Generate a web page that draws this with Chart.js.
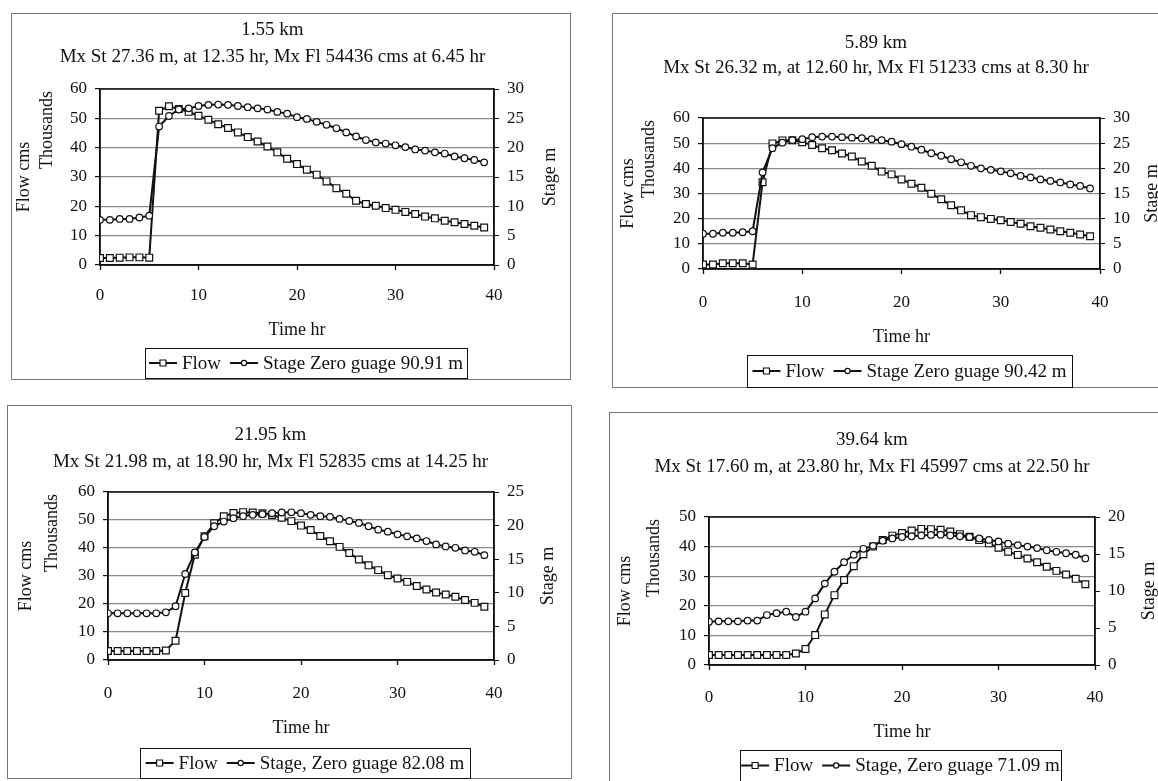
<!DOCTYPE html>
<html>
<head>
<meta charset="utf-8">
<script src="https://cdn.jsdelivr.net/npm/chart.js@4.4.1/dist/chart.umd.min.js"></script>
<style>
  body { margin:0; background:#fff; width:1158px; height:781px; overflow:hidden; position:relative; }
  .panel { position:absolute; border:1px solid #777; box-sizing:border-box; }
  .panel canvas { position:absolute; left:-1px; top:-1px; }
</style>
</head>
<body>
<script>
// time in hours, one reading per hour
const hours = [0,1,2,3,4,5,6,7,8,9,10,11,12,13,14,15,16,17,18,19,20,21,22,23,24,25,26,27,28,29,30,31,32,33,34,35,36,37,38,39];

// flow in thousands of cms, stage in m
const flow1  = [2.4,2.4,2.5,2.6,2.6,2.5,52.6,54.1,53.2,52.2,50.9,49.5,48.0,46.7,45.2,43.6,42.1,40.4,38.4,36.2,34.4,32.5,30.8,28.5,26.2,24.3,21.9,20.8,20.2,19.4,18.8,18.1,17.4,16.5,15.9,15.1,14.6,14.0,13.4,12.8];
const stage1 = [7.7,7.7,7.85,7.85,8.1,8.4,23.6,25.4,26.5,26.7,27.1,27.3,27.35,27.3,27.1,26.9,26.7,26.5,26.1,25.8,25.2,24.9,24.4,23.9,23.3,22.6,21.9,21.3,20.9,20.7,20.4,20.1,19.7,19.5,19.2,19.0,18.5,18.2,17.9,17.5];
const flow2  = [1.8,1.8,2.3,2.3,2.3,1.8,34.5,49.9,51.1,51.2,50.4,49.3,48.0,47.2,45.9,44.7,42.7,41.0,38.7,37.6,35.6,33.9,32.3,29.9,27.7,25.3,23.3,21.4,20.6,19.9,19.4,18.7,18.0,17.0,16.4,15.7,15.0,14.4,13.7,13.0];
const stage2 = [7.0,7.0,7.2,7.2,7.3,7.5,19.2,24.0,25.1,25.6,25.8,26.2,26.3,26.3,26.2,26.1,26.0,25.8,25.6,25.3,24.8,24.3,23.7,23.0,22.5,21.8,21.2,20.5,20.0,19.7,19.4,19.0,18.5,18.2,17.8,17.5,17.2,16.8,16.5,16.0];
const flow3  = [3.2,3.2,3.2,3.2,3.2,3.2,3.4,6.9,23.9,37.6,44.2,48.8,51.3,52.5,52.8,52.7,52.4,51.8,50.8,49.6,48.0,46.4,44.3,42.4,40.4,38.2,35.9,33.8,32.1,30.3,29.1,27.9,26.4,25.2,24.1,23.4,22.6,21.4,20.4,19.0];
const stage3 = [6.95,6.95,6.95,6.95,6.95,6.95,7.1,8.0,12.8,16.0,18.3,19.9,20.6,21.1,21.4,21.6,21.7,21.85,21.95,21.98,21.85,21.6,21.4,21.3,21.0,20.7,20.4,19.9,19.4,19.1,18.7,18.4,18.1,17.7,17.2,16.9,16.7,16.3,16.1,15.6];
const flow4  = [3.4,3.4,3.4,3.4,3.4,3.4,3.4,3.4,3.4,3.9,5.4,10.1,17.1,23.6,28.7,33.4,37.4,40.0,42.2,43.7,44.6,45.4,45.99,45.9,45.7,45.1,44.2,43.3,42.2,41.1,39.6,38.3,37.2,36.0,34.7,33.2,31.8,30.6,29.1,27.3];
const stage4 = [5.85,5.9,5.9,5.9,6.0,6.0,6.75,7.0,7.2,6.5,7.2,9.0,11.0,12.6,13.9,14.9,15.7,16.1,16.8,17.1,17.3,17.4,17.5,17.58,17.6,17.5,17.4,17.3,17.1,16.9,16.7,16.4,16.2,16.0,15.8,15.5,15.3,15.1,14.9,14.4];

const flows  = [flow1, flow2, flow3, flow4];
const stages = [stage1, stage2, stage3, stage4];
const flowMax  = [60, 60, 60, 50];
const stageMax = [30, 30, 25, 20];
const sites = ['1.55 km', '5.89 km', '21.95 km', '39.64 km'];
const subtitles = [
  'Mx St 27.36 m, at 12.35 hr, Mx Fl 54436 cms at 6.45 hr',
  'Mx St 26.32 m, at 12.60 hr, Mx Fl 51233 cms at 8.30 hr',
  'Mx St 21.98 m, at 18.90 hr, Mx Fl 52835 cms at 14.25 hr',
  'Mx St 17.60 m, at 23.80 hr, Mx Fl 45997 cms at 22.50 hr'
];
const stageLabels = [
  'Stage Zero guage 90.91 m',
  'Stage Zero guage 90.42 m',
  'Stage, Zero guage 82.08 m',
  'Stage, Zero guage 71.09 m'
];

// page layout of each panel (page px)
const panels = [
  { box:[11,13,560,367],  plot:[100,89,494,265],  titleY:[30,57],   xTickY:295, xTitleY:330, flowX:24,  thouX:47,  stageX:550,  legend:[145,348,322,30] },
  { box:[612,13,551,375], plot:[703,118,1100,269], titleY:[43,68],  xTickY:302, xTitleY:337, flowX:628, thouX:649, stageX:1152, legend:[747,355,325,32] },
  { box:[7,405,565,374],  plot:[108,492,494,660], titleY:[435,462], xTickY:693, xTitleY:728, flowX:26,  thouX:52,  stageX:548,  legend:[140,748,330,30] },
  { box:[609,412,555,375], plot:[709,517,1095,665], titleY:[440,467], xTickY:697, xTitleY:732, flowX:625, thouX:654, stageX:1149, legend:[740,750,321,31] }
];

const FONT = '"Liberation Serif", "Times New Roman", serif';
Chart.defaults.font.family = FONT;
Chart.defaults.color = '#111';

// plot area frame
const frame = {
  id: 'frame',
  beforeDatasetsDraw(chart) {
    const a = chart.chartArea, ctx = chart.ctx;
    ctx.save();
    ctx.strokeStyle = '#111';
    ctx.lineWidth = 1.5;
    ctx.strokeRect(a.left, a.top, a.right - a.left, a.bottom - a.top);
    ctx.restore();
  }
};

// "Thousands" and the right hand "Stage m", both read bottom to top
const sideText = {
  id: 'sideText',
  afterDraw(chart, args, o) {
    const a = chart.chartArea, ctx = chart.ctx;
    ctx.save();
    ctx.font = '18px ' + FONT;
    ctx.fillStyle = '#111';
    ctx.textBaseline = 'middle';
    ctx.translate(o.thouX, a.top + 2);
    ctx.rotate(-Math.PI / 2);
    ctx.textAlign = 'right';
    ctx.fillText('Thousands', 0, 0);
    ctx.restore();
    ctx.save();
    ctx.font = '18px ' + FONT;
    ctx.fillStyle = '#111';
    ctx.textBaseline = 'middle';
    ctx.translate(o.stageX, (a.top + a.bottom) / 2);
    ctx.rotate(-Math.PI / 2);
    ctx.textAlign = 'center';
    ctx.fillText(o.stageTitle, 0, 0);
    ctx.restore();
  }
};

// boxed legend with line+marker samples
const boxLegend = {
  id: 'boxLegend',
  afterDraw(chart, args, o) {
    const ctx = chart.ctx;
    const [x, y, w, h] = o.rect;
    const cy = y + h / 2;
    ctx.save();
    ctx.strokeStyle = '#111';
    ctx.lineWidth = 1;
    ctx.strokeRect(x + 0.5, y + 0.5, w, h);
    ctx.font = '19px ' + FONT;
    const sets = chart.data.datasets;
    const sample = 28, gap1 = 5, gap2 = 9;
    let total = 0;
    sets.forEach((d, i) => { total += sample + gap1 + ctx.measureText(d.label).width + (i ? 0 : gap2); });
    let cx = x + (w - total) / 2;
    sets.forEach((d, i) => {
      ctx.strokeStyle = '#111';
      ctx.lineWidth = 2;
      ctx.beginPath();
      ctx.moveTo(cx, cy);
      ctx.lineTo(cx + sample, cy);
      ctx.stroke();
      const mx = cx + sample / 2;
      ctx.fillStyle = '#fff';
      ctx.lineWidth = 1.2;
      ctx.beginPath();
      if (d.pointStyle === 'rect') ctx.rect(mx - 3, cy - 3, 6, 6);
      else ctx.arc(mx, cy, 2.6, 0, Math.PI * 2);
      ctx.fill();
      ctx.stroke();
      cx += sample + gap1;
      ctx.fillStyle = '#111';
      ctx.textBaseline = 'middle';
      ctx.textAlign = 'left';
      ctx.fillText(d.label, cx, cy + 1);
      cx += ctx.measureText(d.label).width + gap2;
    });
    ctx.restore();
  }
};

function makeChart(i) {
  const p = panels[i];
  const [bx, by, bw, bh] = p.box;
  const [pl, pt, pr, pb] = p.plot;

  const div = document.createElement('div');
  div.className = 'panel';
  div.style.left = bx + 'px';
  div.style.top = by + 'px';
  div.style.width = bw + 'px';
  div.style.height = bh + 'px';
  const cv = document.createElement('canvas');
  cv.width = bw; cv.height = bh;
  cv.style.width = bw + 'px'; cv.style.height = bh + 'px';
  div.appendChild(cv);
  document.body.appendChild(div);

  const lh = p.titleY[1] - p.titleY[0];
  const tPadTop = p.titleY[0] - by - lh / 2;
  const tPadBottom = (pt - by) - tPadTop - 2 * lh;
  const axisLH = 21;
  const xH = p.xTitleY - pb + axisLH / 2;
  const yW = pl - bx;
  const y2W = 40;
  const padRight = bw - (pr - bx) - y2W;
  const padBottom = bh - (pb - by) - xH;

  const pts = arr => hours.map((t, k) => ({ x: t, y: arr[k] }));

  new Chart(cv, {
    type: 'line',
    data: {
      datasets: [
        { label: 'Flow', data: pts(flows[i]), yAxisID: 'y', order: 1,
          borderColor: '#111', borderWidth: 2, tension: 0,
          pointStyle: 'rect', pointRadius: 4.8, pointBorderWidth: 1.2,
          pointBackgroundColor: '#fff', pointBorderColor: '#111' },
        { label: stageLabels[i], data: pts(stages[i]), yAxisID: 'y2', order: 0,
          borderColor: '#111', borderWidth: 2, tension: 0,
          pointStyle: 'circle', pointRadius: 3.3, pointBorderWidth: 1.2,
          pointBackgroundColor: '#fff', pointBorderColor: '#111' }
      ]
    },
    options: {
      responsive: false,
      animation: false,
      layout: { padding: { left: 0, top: 0, right: padRight, bottom: padBottom } },
      plugins: {
        legend: { display: false },
        tooltip: { enabled: false },
        title: {
          display: true,
          text: [sites[i], subtitles[i]],
          color: '#111',
          font: { size: 19, weight: 'normal', lineHeight: lh + 'px' },
          padding: { top: tPadTop, bottom: tPadBottom }
        },
        sideText: { thouX: p.thouX - bx, stageX: p.stageX - bx, stageTitle: 'Stage m' },
        boxLegend: { rect: [p.legend[0] - bx, p.legend[1] - by, p.legend[2], p.legend[3]] }
      },
      scales: {
        x: {
          type: 'linear', min: 0, max: 40,
          afterFit: s => { s.height = xH; },
          ticks: { stepSize: 10, font: { size: 17 }, padding: p.xTickY - pb - 15, color: '#111', maxRotation: 0 },
          grid: { drawOnChartArea: false, tickLength: 5, tickColor: '#111', tickWidth: 1.3 },
          border: { color: '#111', width: 1.5 },
          title: { display: true, text: 'Time hr', color: '#111', font: { size: 18, lineHeight: axisLH + 'px' }, padding: 0 }
        },
        y: {
          position: 'left', min: 0, max: flowMax[i],
          afterFit: s => { s.width = yW; },
          ticks: { stepSize: 10, font: { size: 17 }, padding: 8, color: '#111' },
          grid: { color: '#8a8a8a', lineWidth: 1.2, tickLength: 5, tickColor: '#111' },
          border: { color: '#111', width: 1.5 },
          title: { display: true, text: 'Flow cms', color: '#111', font: { size: 18, lineHeight: axisLH + 'px' },
                   padding: { top: p.flowX - bx - axisLH / 2, bottom: 0 } }
        },
        y2: {
          position: 'right', min: 0, max: stageMax[i],
          afterFit: s => { s.width = y2W; },
          ticks: { stepSize: 5, font: { size: 17 }, padding: 8, color: '#111' },
          grid: { drawOnChartArea: false, tickLength: 5, tickColor: '#111' },
          border: { color: '#111', width: 1.5 }
        }
      }
    },
    plugins: [frame, sideText, boxLegend]
  });
}

for (let i = 0; i < 4; i++) makeChart(i);
</script>
</body>
</html>
